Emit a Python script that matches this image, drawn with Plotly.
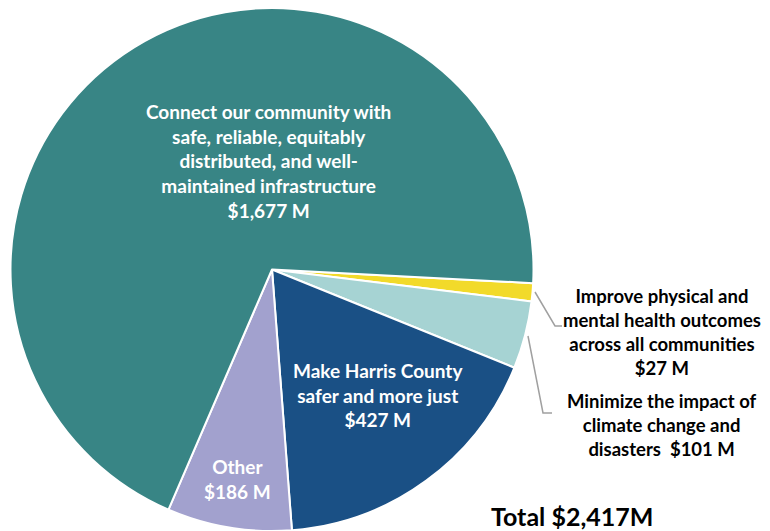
import plotly.graph_objects as go

categories = ["Improve physical and mental health outcomes across all communities",
              "Minimize the impact of climate change and disasters",
              "Make Harris County safer and more just",
              "Other",
              "Connect our community with safe, reliable, equitably distributed, and well-maintained infrastructure"]
values = [27, 101, 427, 186, 1677]
colors = ["#F2DA2A", "#A6D3D3", "#1A5085", "#A2A1CE", "#388585"]
total_label = "Total $2,417M"

OFF = 8  # page body margin
W, H = 770 - OFF, 531 - OFF
def px(x):
    return (x - OFF) / W
def py(y):
    return 1 - (y - OFF) / H

fig = go.Figure(go.Pie(
    labels=categories, values=values, sort=False, direction="clockwise",
    rotation=93, textinfo="none", hoverinfo="label+value",
    marker=dict(colors=colors, line=dict(color="white", width=2)),
    domain=dict(x=[px(10), px(534)], y=[0, 1]),
    showlegend=False,
))

FONT = "Lato"
ann = []
def add(x, y, text, color, size=19):
    ann.append(dict(x=px(x), y=py(y), xref="paper", yref="paper", text=text,
                    showarrow=False, xanchor="center", yanchor="middle",
                    font=dict(family=FONT, size=size, color=color)))

add(268, 161, "<b>Connect our community with<br>safe, reliable, equitably<br>distributed, and well-<br>maintained infrastructure<br>$1,677 M</b>", "white")
add(378, 395, "<b>Make Harris County<br>safer and more just<br>$427 M</b>", "white")
add(237, 479, "<b>Other<br>$186 M</b>", "white")
add(662, 332, "<b>Improve physical and<br>mental health outcomes<br>across all communities<br>$27 M</b>", "black", size=18.5)
add(662, 425, "<b>Minimize the impact of<br>climate change and<br>disasters  $101 M</b>", "black", size=18.5)
add(572, 516, "<b>" + total_label + "</b>", "black", size=25)

shapes = []
def line(pts):
    path = "M " + " L ".join(f"{px(x)},{py(y)}" for x, y in pts)
    shapes.append(dict(type="path", path=path, xref="paper", yref="paper",
                       line=dict(color="#A0A0A0", width=1.5)))
line([(535, 292), (555, 326), (562, 326)])
line([(528, 336), (543, 413), (552, 413)])

fig.update_layout(width=W, height=H, margin=dict(l=0, r=0, t=0, b=0),
                  paper_bgcolor="white", plot_bgcolor="white",
                  annotations=ann, shapes=shapes)
fig.write_html("out.html")
